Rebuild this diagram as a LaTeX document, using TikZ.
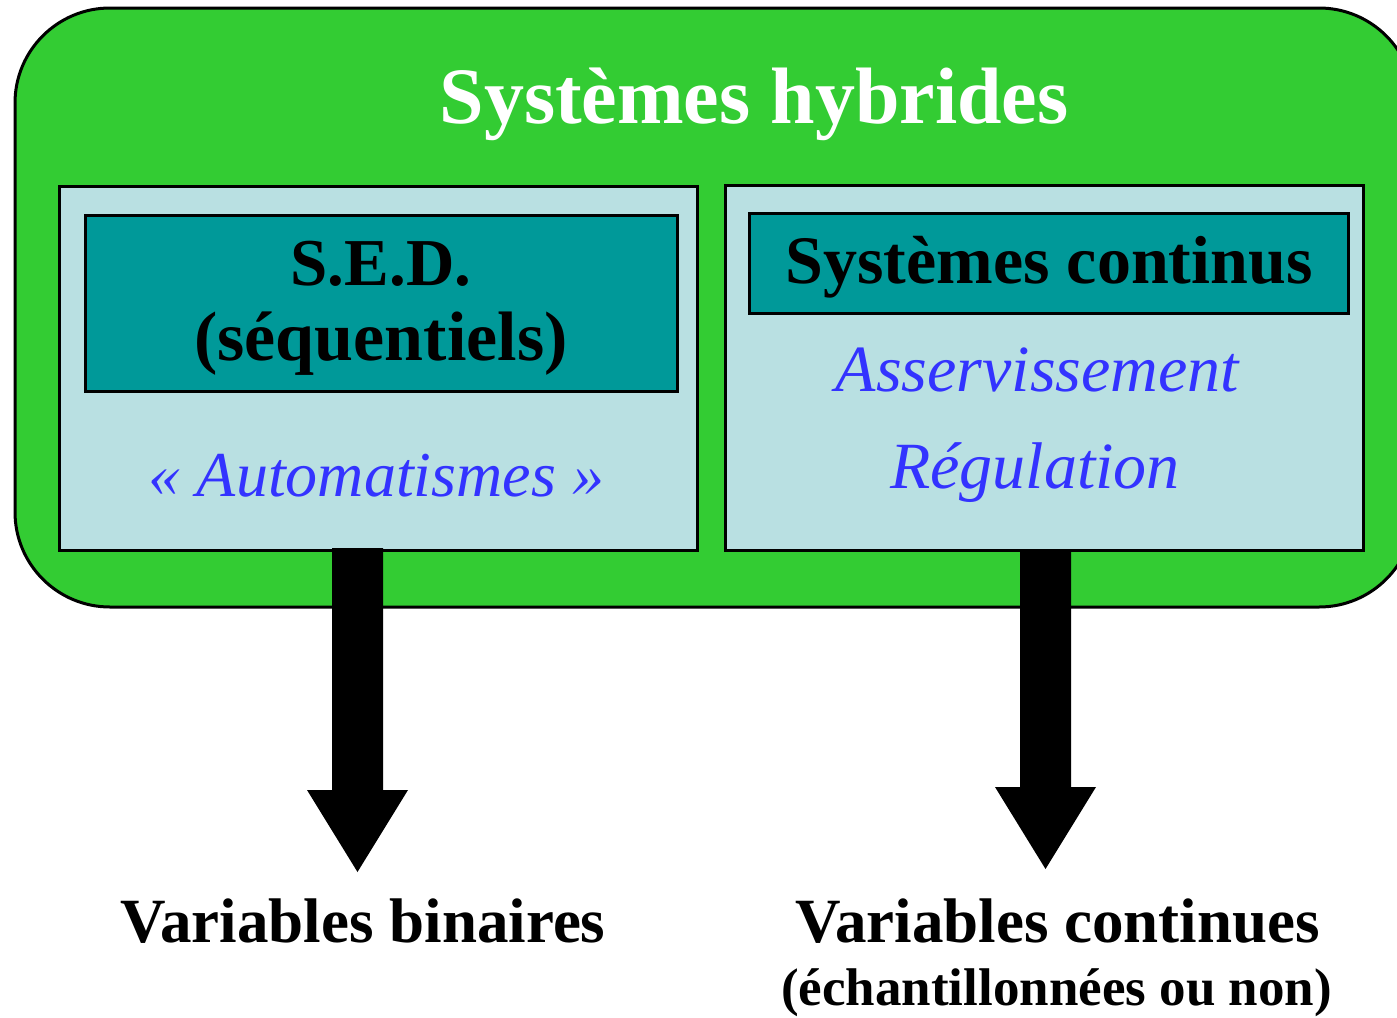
\documentclass[tikz,border=0pt]{standalone}
\usepackage{fontspec}
\setmainfont{Liberation Serif}
\usetikzlibrary{calc}
\definecolor{hgreen}{HTML}{33CC33}
\definecolor{lightbox}{HTML}{B9E0E2}
\definecolor{tealbox}{HTML}{009999}
\definecolor{bluetxt}{HTML}{3333FF}
\newcommand\fatarrow[2]{%
  \fill[black] ($(#1)+(-25.5,0)$) -- ($(#1)+(25.5,0)$) -- ($(#2)+(25.5,-82)$)
    -- ($(#2)+(50.5,-82)$) -- (#2) -- ($(#2)+(-50.5,-82)$) -- ($(#2)+(-25.5,-82)$) -- cycle;}
\begin{document}
\begin{tikzpicture}[x=1pt,y=-1pt,
  outerbox/.style={draw=black, line width=3pt, fill=hgreen, rounded corners=95pt},
  panel/.style={draw=black, line width=3pt, fill=lightbox, inner sep=0pt},
  headbox/.style={draw=black, line width=3pt, fill=tealbox, inner sep=0pt},
  titletext/.style={text=white, font=\fontsize{80}{84}\selectfont\bfseries, anchor=base, inner sep=0pt},
  headtext/.style={text=black, font=\fontsize{67}{70}\selectfont\bfseries, anchor=base, inner sep=0pt},
  scripttext/.style={text=bluetxt, font=\fontsize{66}{70}\selectfont\itshape, anchor=base, inner sep=0pt},
  outtext/.style={text=black, font=\fontsize{63}{66}\selectfont\bfseries, anchor=base, inner sep=0pt},
  subtext/.style={text=black, font=\fontsize{53}{56}\selectfont\bfseries, anchor=base, inner sep=0pt}]
\useasboundingbox (0,0) rectangle (1397,1017);
\fill[white] (0,0) rectangle (1397,1017);
% outer green box
\path[outerbox] (15,8) rectangle (1414,607);
\node[titletext] (title) at (754,123) {Systèmes hybrides};
% panels
\node[panel, minimum width=638pt, minimum height=364pt] (lpanel) at (378,368) {};
\node[panel, minimum width=638pt, minimum height=365pt] (rpanel) at (1044,367.5) {};
\node[headbox, minimum width=592pt, minimum height=176pt] (lhead) at (381,303) {};
\node[headbox, minimum width=599pt, minimum height=100pt] (rhead) at (1048.5,263) {};
% texts
\node[headtext] (sed) at (381,285) {S.E.D.};
\node[headtext, font=\fontsize{70}{72}\selectfont\bfseries] (seq) at (381,360) {(séquentiels)};
\node[headtext, font=\fontsize{68}{70}\selectfont\bfseries] (cont) at (1049,283) {Systèmes continus};
\node[scripttext, font=\fontsize{64}{70}\selectfont\itshape] (auto) at (376.5,496) {« Automatismes »};
\node[scripttext] (asserv) at (1037.5,391) {Asservissement};
\node[scripttext] (regul) at (1035,488) {Régulation};
\node[outtext] (vbin) at (363,942) {Variables binaires};
\node[outtext] (vcont) at (1057.5,942) {Variables continues};
\node[subtext] (echant) at (1056.5,1005) {(échantillonnées ou non)};
% arrows
\coordinate (a1s) at (357.5,548);
\coordinate (a1e) at (357.5,872);
\coordinate (a2s) at (1045.5,552);
\coordinate (a2e) at (1045.5,869);
\fatarrow{a1s}{a1e}
\fatarrow{a2s}{a2e}
\end{tikzpicture}
\end{document}
